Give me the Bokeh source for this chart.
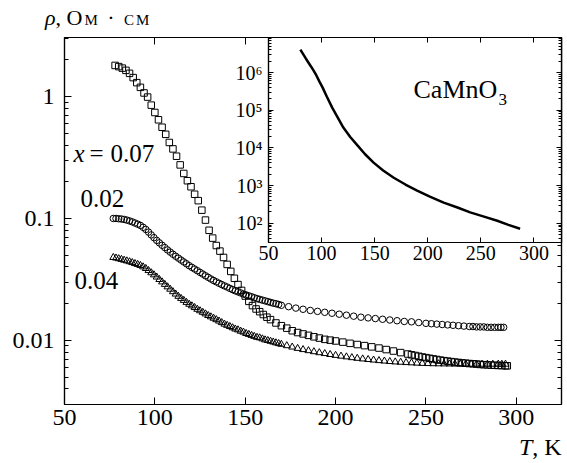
from bokeh.plotting import figure
from bokeh.models import (ColumnDataSource, Label, LinearAxis, LogAxis, FixedTicker,
                          CustomJSTickFormatter, Div)
from bokeh.layouts import column
from bokeh.embed import file_html
from bokeh.resources import INLINE

# ---------------- data ----------------
# x = 0.07 (squares)
T_07 = [78, 80, 82, 84, 86, 88, 90, 92, 94, 96, 98, 100, 102, 104, 106, 108, 110, 112, 114,
        116, 118, 120, 122, 124, 126, 128, 130, 132, 134, 136, 138, 140, 142, 144, 146, 148,
        150, 152, 154, 156, 158, 160, 162, 164, 167, 170, 173, 176, 179, 182, 185, 188, 191,
        194, 197, 200, 204, 208, 212, 216, 220, 224, 228, 232, 236, 240, 242, 244, 246, 248,
        250, 252, 254, 256, 258, 260, 262, 264, 266, 268, 270, 272, 274, 276, 278, 280, 282,
        284, 286, 288, 290, 292, 294, 295]
R_07 = [1.80, 1.76, 1.71, 1.64, 1.55, 1.43, 1.30, 1.19, 1.07, 0.99, 0.85, 0.74, 0.645, 0.56,
        0.49, 0.42, 0.372, 0.324, 0.275, 0.234, 0.204, 0.182, 0.158, 0.140, 0.117, 0.097,
        0.080, 0.069, 0.060, 0.054, 0.0479, 0.0420, 0.0368, 0.0323, 0.0287, 0.0257, 0.0231,
        0.0209, 0.0193, 0.0181, 0.0172, 0.0163, 0.0155, 0.0148, 0.0139, 0.0132, 0.0126,
        0.0120, 0.0116, 0.0113, 0.0110, 0.0107, 0.01045, 0.0102, 0.01005, 0.00989, 0.00968,
        0.00946, 0.00925, 0.00906, 0.00885, 0.00865, 0.00841, 0.00818, 0.00794, 0.00773,
        0.00762, 0.00752, 0.00741, 0.00731, 0.00722, 0.00713, 0.00705, 0.00697, 0.00689,
        0.00682, 0.00676, 0.00670, 0.00664, 0.00659, 0.00654, 0.00650, 0.00646, 0.00643,
        0.00639, 0.00635, 0.00632, 0.00630, 0.00627, 0.00625, 0.00623, 0.00621, 0.00619,
        0.00619]

# x = 0.02 (circles)
T_02 = [77, 78.5, 80, 81.5, 83, 84.5, 86, 87.5, 89, 90.5, 92, 93.5, 95, 96.5, 98, 99.5, 101,
        102.5, 104, 105.5, 107, 108.5, 110, 111.5, 113, 114.5, 116, 117.5, 119, 120.5, 122,
        123.5, 125, 126.5, 128, 129.5, 131, 132.5, 134, 135.5, 137, 138.5, 140, 141.5, 143,
        144.5, 146, 147.5, 149, 150.5, 152, 153.5, 155, 156.5, 158, 159.5, 161, 162.5, 164,
        165.5, 167, 168.5, 170, 174, 178, 182, 186, 190, 194, 198, 202, 206, 210, 214, 218,
        222, 226, 230, 234, 238, 242, 246, 250, 253, 256, 259, 262, 265, 268, 271, 274, 276,
        278, 280, 282, 284, 286, 288, 290, 291.5, 293]
R_02 = [0.1000, 0.1000, 0.0995, 0.0990, 0.0982, 0.0970, 0.0955, 0.0938, 0.0918, 0.0898,
        0.0877, 0.0846, 0.0813, 0.0773, 0.0733, 0.0696, 0.0661, 0.0631, 0.0603, 0.0577,
        0.0552, 0.0530, 0.0509, 0.0490, 0.0473, 0.0456, 0.0440, 0.0425, 0.0410, 0.0397,
        0.0385, 0.0373, 0.0361, 0.0350, 0.0339, 0.0329, 0.0319, 0.0310, 0.0302, 0.0294,
        0.0287, 0.0280, 0.0274, 0.0267, 0.0261, 0.0255, 0.0250, 0.0245, 0.0240, 0.0236,
        0.0232, 0.0228, 0.0224, 0.0220, 0.0217, 0.0214, 0.0211, 0.0208, 0.0205, 0.0202,
        0.0200, 0.0197, 0.0194, 0.0189, 0.0184, 0.0180, 0.0176, 0.0173, 0.0170, 0.0167,
        0.0164, 0.0161, 0.0158, 0.0155, 0.0153, 0.0151, 0.0149, 0.0147, 0.0145, 0.0143,
        0.0142, 0.0140, 0.0138, 0.0137, 0.0136, 0.0135, 0.0134, 0.0133, 0.0132, 0.0131,
        0.0130, 0.0130, 0.0129, 0.0129, 0.0129, 0.0128, 0.0128, 0.0128, 0.0128, 0.0128,
        0.0128]

# x = 0.04 (triangles)
T_04 = [77, 78.5, 80, 81.5, 83, 84.5, 86, 87.5, 89, 90.5, 92, 93.5, 95, 96.5, 98, 99.5, 101,
        102.5, 104, 105.5, 107, 108.5, 110, 111.5, 113, 114.5, 116, 117.5, 119, 120.5, 122,
        123.5, 125, 126.5, 128, 129.5, 131, 132.5, 134, 135.5, 137, 138.5, 140, 141.5, 143,
        144.5, 146, 147.5, 149, 150.5, 152, 153.5, 155, 156.5, 158, 159.5, 161, 162.5, 164,
        165.5, 167, 168.5, 170, 173, 176, 179, 182, 185, 188, 191, 194, 197, 200, 203, 206,
        209, 212, 215, 218, 221, 224, 227, 230, 233, 236, 239, 242, 245, 248, 251, 254, 257,
        260, 263, 266, 269, 272, 275, 278, 281, 284, 287, 290, 292, 294]
R_04 = [0.0479, 0.0474, 0.0468, 0.0462, 0.0455, 0.0449, 0.0442, 0.0435, 0.0427, 0.0420,
        0.0412, 0.0401, 0.0389, 0.0374, 0.0359, 0.0345, 0.0331, 0.0316, 0.0302, 0.0288,
        0.0275, 0.0263, 0.0251, 0.0240, 0.0230, 0.0221, 0.0213, 0.0205, 0.0198, 0.0192,
        0.0186, 0.0180, 0.0175, 0.0170, 0.0165, 0.0160, 0.0156, 0.0152, 0.0148, 0.0144,
        0.0140, 0.0136, 0.0133, 0.0130, 0.0127, 0.0124, 0.0122, 0.0119, 0.0117, 0.0114,
        0.0112, 0.0110, 0.0108, 0.0106, 0.0105, 0.0103, 0.0101, 0.00998, 0.00984, 0.00970,
        0.00955, 0.00942, 0.00929, 0.00905, 0.00882, 0.00860, 0.00841, 0.00824, 0.00808,
        0.00793, 0.00780, 0.00766, 0.00754, 0.00743, 0.00733, 0.00722, 0.00713, 0.00705,
        0.00697, 0.00690, 0.00683, 0.00677, 0.00671, 0.00666, 0.00662, 0.00658, 0.00655,
        0.00651, 0.00648, 0.00646, 0.00644, 0.00643, 0.00642, 0.00641, 0.00640, 0.00640,
        0.00639, 0.00638, 0.00638, 0.00638, 0.00638, 0.00638, 0.00638, 0.00638, 0.00638]

# inset: CaMnO3
T_ca = [80, 85, 90, 92.5, 95, 98, 101, 105, 110, 115, 120.5, 127, 134, 141, 149, 158, 168,
        179, 190, 202, 215, 228, 240, 253, 265.5, 276, 287]
R_ca = [4.07e6, 2.4e6, 1.45e6, 1.12e6, 8.5e5, 5.75e5, 3.98e5, 2.29e5, 1.17e5, 6.6e4, 3.47e4,
        1.95e4, 1.15e4, 6.8e3, 4.07e3, 2.51e3, 1.62e3, 1.07e3, 741, 513, 355, 263, 195, 151,
        117, 91, 72]

x_ticks = [50, 100, 150, 200, 250, 300]
y_ticks = [0.01, 0.1, 1]
y_minor = [0.003, 0.004, 0.005, 0.006, 0.007, 0.008, 0.009,
           0.02, 0.03, 0.04, 0.05, 0.06, 0.07, 0.08, 0.09,
           0.2, 0.3, 0.4, 0.5, 0.6, 0.7, 0.8, 0.9, 2, 3]
in_y_ticks = [1e2, 1e3, 1e4, 1e5, 1e6]
in_y_minor = [m * d for d in [10, 100, 1000, 10000, 100000, 1000000]
              for m in [2, 3, 4, 5, 6, 7, 8, 9]]

FONT = "Liberation Serif"
BLANK = CustomJSTickFormatter(code="return '';")

# ---------------- main figure ----------------
p = figure(width=567, height=463, x_range=(50, 325), y_range=(0.00298, 3.05),
           y_axis_type="log", output_backend="svg", toolbar_location=None,
           min_border_left=64, min_border_right=6, min_border_top=37, min_border_bottom=59)
p.grid.visible = False
p.outline_line_color = "black"
p.outline_line_width = 1.2
p.background_fill_color = "white"
p.border_fill_color = "white"

p.add_layout(LinearAxis(), "above")
p.add_layout(LogAxis(), "right")

for ax in p.xaxis:
    ax.ticker = FixedTicker(ticks=x_ticks, minor_ticks=[])
for ax in p.yaxis:
    ax.ticker = FixedTicker(ticks=y_ticks, minor_ticks=y_minor)
    ax.formatter = CustomJSTickFormatter(code="return tick.toString();")

for ax in list(p.xaxis) + list(p.yaxis):
    ax.axis_line_color = "black"
    ax.axis_line_width = 1.2
    ax.major_tick_in = 7
    ax.major_tick_out = 0
    ax.minor_tick_in = 4
    ax.minor_tick_out = 0
    ax.major_tick_line_color = "black"
    ax.minor_tick_line_color = "black"
    ax.major_label_text_font = FONT
    ax.major_label_text_font_size = "24px"
    ax.major_label_text_color = "black"

p.below[0].major_label_standoff = 5
p.left[0].major_label_standoff = 10
for ax in (p.above[0], p.right[0]):
    ax.formatter = BLANK
    ax.major_label_text_font_size = "1px"
    ax.major_label_standoff = 0

src07 = ColumnDataSource(dict(T=T_07, R=R_07))
src02 = ColumnDataSource(dict(T=T_02, R=R_02))
src04 = ColumnDataSource(dict(T=T_04, R=R_04))
p.scatter("T", "R", source=src07, marker="square", size=6.5, line_color="black",
          fill_color=None, line_width=1)
p.scatter("T", "R", source=src02, marker="circle", size=6.5, line_color="black",
          fill_color=None, line_width=1)
p.scatter("T", "R", source=src04, marker="triangle", size=7, line_color="black",
          fill_color=None, line_width=1)

def lab(fig, x, y, text, size="25px", style="normal"):
    fig.add_layout(Label(x=x, y=y, text=text, text_font=FONT, text_font_size=size,
                         text_font_style=style, text_color="black",
                         text_baseline="middle", text_align="left"))

lab(p, 55.0, 0.344, "x", style="italic")
lab(p, 63.8, 0.344, "=")
lab(p, 75.5, 0.344, "0.07")
lab(p, 58.8, 0.1445, "0.02")
lab(p, 55.5, 0.0308, "0.04")

# ---------------- inset ----------------
q = figure(width=363, height=233, x_range=(50, 326), y_range=(31, 8.5e6),
           y_axis_type="log", output_backend="svg", toolbar_location=None,
           min_border_left=64, min_border_right=6, min_border_top=1, min_border_bottom=27)
q.grid.visible = False
q.outline_line_color = "black"
q.outline_line_width = 1.2
q.background_fill_color = "white"
q.border_fill_alpha = 0
q.add_layout(LinearAxis(), "above")
q.add_layout(LogAxis(), "right")
for ax in q.xaxis:
    ax.ticker = FixedTicker(ticks=x_ticks, minor_ticks=[])
for ax in q.yaxis:
    ax.ticker = FixedTicker(ticks=in_y_ticks, minor_ticks=in_y_minor)
    ax.formatter = CustomJSTickFormatter(code="""
        const sup = {"0":"\u2070","1":"\u00b9","2":"\u00b2","3":"\u00b3","4":"\u2074",
                     "5":"\u2075","6":"\u2076","7":"\u2077","8":"\u2078","9":"\u2079"};
        const e = Math.round(Math.log10(tick));
        return "10" + String(e).split("").map(c => sup[c]).join("");
    """)
for ax in list(q.xaxis) + list(q.yaxis):
    ax.axis_line_color = "black"
    ax.axis_line_width = 1.2
    ax.major_tick_in = 5
    ax.major_tick_out = 0
    ax.minor_tick_in = 3
    ax.minor_tick_out = 0
    ax.major_tick_line_color = "black"
    ax.minor_tick_line_color = "black"
    ax.major_label_text_font = FONT
    ax.major_label_text_font_size = "20px"
    ax.major_label_text_color = "black"
q.below[0].major_label_standoff = 3
q.left[0].major_label_standoff = 6
for ax in (q.above[0], q.right[0]):
    ax.formatter = BLANK
    ax.major_label_text_font_size = "1px"
    ax.major_label_standoff = 0

srcca = ColumnDataSource(dict(T=T_ca, R=R_ca))
q.line("T", "R", source=srcca, line_color="black", line_width=2.5)
lab(q, 186.6, 3.65e5, "CaMnO", size="26px")
lab(q, 266.7, 1.98e5, "3", size="17px")

q.styles = {"position": "absolute", "left": "204px", "top": "36px"}

# ---------------- axis captions (HTML text placed over the canvas) ----------------
rho_div = Div(
    text=('<span style="font-family:\'Liberation Serif\';font-size:22px;line-height:1;'
          'color:black;white-space:nowrap"><i>ρ</i>,&nbsp;'
          '<span style="font-variant:small-caps;letter-spacing:2px">Ом&nbsp;·&nbsp;см</span>'
          '</span>'),
    width=130, height=26,
    styles={"position": "absolute", "left": "45px", "top": "7px", "margin": "0"})
t_div = Div(
    text=('<span style="font-family:\'Liberation Serif\';font-size:24px;line-height:1;'
          'color:black;white-space:nowrap"><i>T</i>, K</span>'),
    width=46, height=26,
    styles={"position": "absolute", "left": "519px", "top": "435px", "margin": "0"})

layout = column(p, q, rho_div, t_div, styles={"position": "relative"})

open("out.html", "w").write(file_html(layout, INLINE))
